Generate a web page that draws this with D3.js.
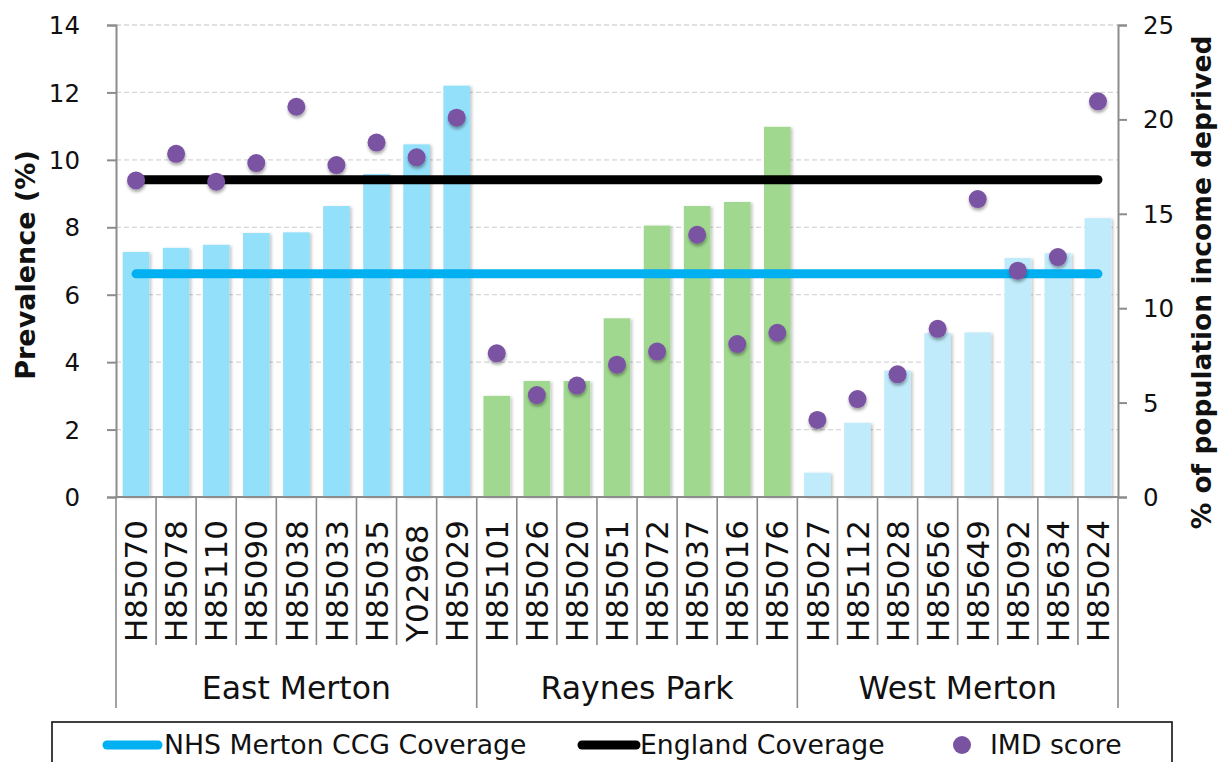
<!DOCTYPE html>
<html>
<head>
<meta charset="utf-8">
<script src="https://cdn.jsdelivr.net/npm/d3@7"></script>
<style>
  html, body { margin: 0; padding: 0; background: #fff; }
  svg { display: block; font-family: "DejaVu Sans", Verdana, sans-serif; }
</style>
</head>
<body>
<svg id="chart" width="1231" height="762"></svg>
<script>
// GP practice codes, grouped by locality
const practices = ["H85070","H85078","H85110","H85090","H85038","H85033","H85035","Y02968","H85029",
                   "H85101","H85026","H85020","H85051","H85072","H85037","H85016","H85076",
                   "H85027","H85112","H85028","H85656","H85649","H85092","H85634","H85024"];
const localities = ["East Merton", "Raynes Park", "West Merton"];
const localitySizes = [9, 8, 8];
const localityColours = ["#93E0FB", "#A0D88F", "#BFEBFB"];

// Prevalence (%) per practice — left axis
const prevalence = [7.27, 7.39, 7.48, 7.83, 7.85, 8.63, 9.58, 10.46, 12.2,
                    3.0, 3.44, 3.44, 5.3, 8.05, 8.63, 8.75, 10.98,
                    0.72, 2.2, 3.75, 4.86, 4.88, 7.09, 7.23, 8.27];
// IMD score (% of population income deprived) — right axis
const imdScore = [16.77, 18.18, 16.7, 17.69, 20.67, 17.58, 18.77, 17.99, 20.09,
                  7.61, 5.40, 5.90, 7.01, 7.70, 13.89, 8.10, 8.70,
                  4.08, 5.19, 6.50, 8.91, 15.78, 11.99, 12.71, 20.96];
// Reference coverage levels (%)
const ccgCoverage = 6.62;
const englandCoverage = 9.41;

const leftTicks = [0, 2, 4, 6, 8, 10, 12, 14];
const rightTicks = [0, 5, 10, 15, 20, 25];

const svg = d3.select("#chart");
const plot = { left: 116, right: 1118, top: 25, bottom: 497 };

const x = d3.scaleBand().domain(practices)
  .range([plot.left, plot.right]).paddingInner(0.335).paddingOuter(0.1675);
const yL = d3.scaleLinear().domain([0, 14]).range([plot.bottom, plot.top]);
const yR = d3.scaleLinear().domain([0, 25]).range([plot.bottom, plot.top]);

// practice -> locality index
const localityOf = [];
localitySizes.forEach((n, gi) => { for (let i = 0; i < n; i++) localityOf.push(gi); });

// shadows
const defs = svg.append("defs");
defs.append("filter").attr("id", "barShadow").attr("x", "-20%").attr("y", "-5%").attr("width", "150%").attr("height", "115%")
  .append("feDropShadow").attr("dx", 2).attr("dy", 1).attr("stdDeviation", 1.6)
  .attr("flood-color", "#000").attr("flood-opacity", 0.22);
defs.append("filter").attr("id", "dotShadow").attr("x", "-60%").attr("y", "-60%").attr("width", "220%").attr("height", "240%")
  .append("feDropShadow").attr("dx", 0.5).attr("dy", 2.5).attr("stdDeviation", 1.8)
  .attr("flood-color", "#000").attr("flood-opacity", 0.35);

// gridlines
svg.append("g").selectAll("line").data(leftTicks.filter(t => t > 0)).join("line")
  .attr("x1", plot.left).attr("x2", plot.right)
  .attr("y1", d => yL(d)).attr("y2", d => yL(d))
  .attr("stroke", "#D6D6D6").attr("stroke-width", 1.3).attr("stroke-dasharray", "5,3");

// bars
svg.append("g").selectAll("rect").data(practices).join("rect")
  .attr("x", d => x(d))
  .attr("y", (d, i) => yL(prevalence[i]))
  .attr("width", x.bandwidth())
  .attr("height", (d, i) => yL(0) - yL(prevalence[i]))
  .attr("fill", (d, i) => localityColours[localityOf[i]])
  .attr("filter", "url(#barShadow)");

// coverage lines
const xFirst = x(practices[0]) + x.bandwidth() / 2;
const xLast = x(practices[practices.length - 1]) + x.bandwidth() / 2;
[[englandCoverage, "#000000"], [ccgCoverage, "#00B0F0"]].forEach(([v, c]) => {
  svg.append("line")
    .attr("x1", xFirst).attr("x2", xLast)
    .attr("y1", yL(v)).attr("y2", yL(v))
    .attr("stroke", c).attr("stroke-width", 9).attr("stroke-linecap", "round");
});

// IMD dots
svg.append("g").selectAll("circle").data(practices).join("circle")
  .attr("cx", d => x(d) + x.bandwidth() / 2)
  .attr("cy", (d, i) => yR(imdScore[i]))
  .attr("r", 9)
  .attr("fill", "#7A52A2")
  .attr("filter", "url(#dotShadow)");

// left axis
const axL = svg.append("g").attr("transform", `translate(${plot.left},0)`)
  .call(d3.axisLeft(yL).tickValues(leftTicks).tickSize(9).tickPadding(27));
// right axis
const axR = svg.append("g").attr("transform", `translate(${plot.right},0)`)
  .call(d3.axisRight(yR).tickValues(rightTicks).tickSize(9).tickPadding(16));
[axL, axR].forEach(ax => {
  ax.select(".domain").attr("stroke", "#8C8C8C").attr("stroke-width", 2);
  ax.selectAll(".tick line").attr("stroke", "#8C8C8C").attr("stroke-width", 2);
  ax.selectAll(".tick text").attr("fill", "#111").style("font-size", "24.5px")
    .style("font-family", "'DejaVu Sans', Verdana, sans-serif");
});
axL.selectAll(".tick text").attr("dy", "0.35em");
axR.selectAll(".tick text").attr("dy", "0.35em");

// category axis baseline
svg.append("line").attr("x1", plot.left).attr("x2", plot.right)
  .attr("y1", plot.bottom).attr("y2", plot.bottom)
  .attr("stroke", "#8C8C8C").attr("stroke-width", 2);

// separators between practices and between localities
const step = x.step();
const catBottom = 645, groupBottom = 708;
const groupStarts = [0];
localitySizes.forEach((n, i) => groupStarts.push(groupStarts[i] + n));
d3.range(practices.length + 1).forEach(i => {
  const isGroupEdge = groupStarts.includes(i);
  svg.append("line")
    .attr("x1", plot.left + i * step).attr("x2", plot.left + i * step)
    .attr("y1", plot.bottom).attr("y2", isGroupEdge ? groupBottom : catBottom)
    .attr("stroke", "#8C8C8C").attr("stroke-width", 1.6);
});

// practice labels
svg.append("g").selectAll("text").data(practices).join("text")
  .attr("transform", d => `translate(${x(d) + x.bandwidth() / 2},${catBottom - 3}) rotate(-90)`)
  .attr("dy", "0.36em")
  .attr("text-anchor", "start")
  .style("font-size", "31px").attr("fill", "#111")
  .text(d => d);

// locality labels
svg.append("g").selectAll("text").data(localities).join("text")
  .attr("x", (d, i) => plot.left + (groupStarts[i] + localitySizes[i] / 2) * step)
  .attr("y", 699)
  .attr("text-anchor", "middle")
  .style("font-size", "31.5px").attr("fill", "#111")
  .text(d => d);

// axis titles
svg.append("text")
  .attr("transform", `translate(35,${(plot.top + plot.bottom) / 2 + 4}) rotate(-90)`)
  .attr("text-anchor", "middle")
  .style("font-size", "27px").style("font-weight", "bold").attr("fill", "#111")
  .text("Prevalence (%)");
svg.append("text")
  .attr("transform", `translate(1211,${(33 + 532) / 2}) rotate(-90)`)
  .attr("text-anchor", "middle")
  .style("font-size", "26.5px").style("font-weight", "bold").attr("fill", "#111")
  .text("% of population income deprived");

// legend
const lg = svg.append("g");
lg.append("rect").attr("x", 52).attr("y", 722).attr("width", 1120).attr("height", 70)
  .attr("fill", "#fff").attr("stroke", "#111").attr("stroke-width", 1.6);
const legendY = 745;
lg.append("line").attr("x1", 107).attr("x2", 158).attr("y1", legendY).attr("y2", legendY)
  .attr("stroke", "#00B0F0").attr("stroke-width", 9).attr("stroke-linecap", "round");
lg.append("text").attr("x", 164).attr("y", 754).style("font-size", "26.7px").attr("fill", "#111")
  .text("NHS Merton CCG Coverage");
lg.append("line").attr("x1", 582).attr("x2", 636).attr("y1", legendY).attr("y2", legendY)
  .attr("stroke", "#000").attr("stroke-width", 9).attr("stroke-linecap", "round");
lg.append("text").attr("x", 640).attr("y", 754).style("font-size", "26.7px").attr("fill", "#111")
  .text("England Coverage");
lg.append("circle").attr("cx", 962).attr("cy", legendY).attr("r", 9).attr("fill", "#7A52A2");
lg.append("text").attr("x", 990).attr("y", 754).style("font-size", "26.7px").attr("fill", "#111")
  .text("IMD score");
</script>
</body>
</html>
